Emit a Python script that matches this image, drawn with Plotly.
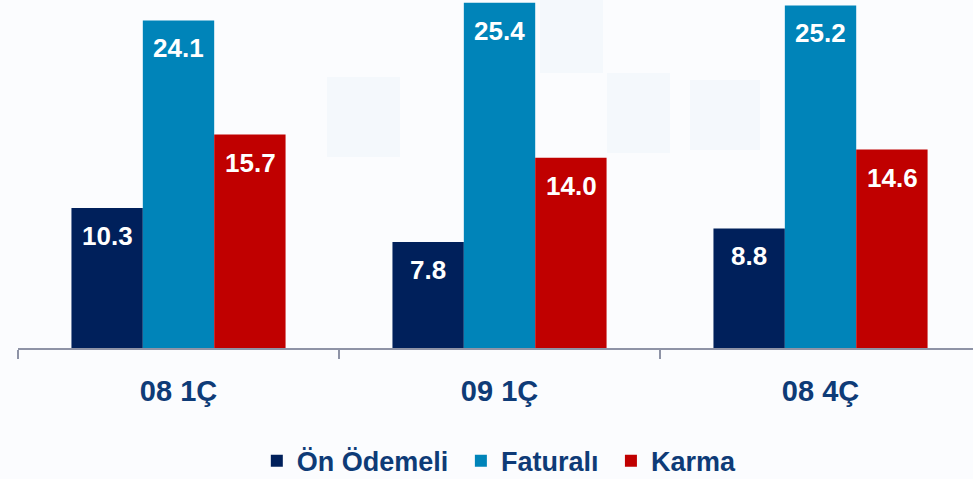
import plotly.graph_objects as go

categories = ["08 1Ç", "09 1Ç", "08 4Ç"]
series_names = ["Ön Ödemeli", "Faturalı", "Karma"]
on_odemeli = [10.3, 7.8, 8.8]
faturali = [24.1, 25.4, 25.2]
karma = [15.7, 14.0, 14.6]
series_values = [on_odemeli, faturali, karma]
colors = ["#00205B", "#0084B9", "#C00000"]

navy_text = "#0E3B77"
FONT = "Liberation Sans, Arial"
legend_pad = ["&nbsp;", "&nbsp;", ""]

fig = go.Figure()
for name, vals, col, pad in zip(series_names, series_values, colors, legend_pad):
    fig.add_trace(go.Bar(
        x=categories, y=vals, name=f"<b>{name}</b>{pad}", marker_color=col,
        marker_line_width=0, hoverinfo="skip",
    ))

# value labels inside bars near the top
offsets = [-71.5, 0, 71.5]
for vals, xs in zip(series_values, offsets):
    for c, v in zip(categories, vals):
        fig.add_annotation(
            x=c, y=v, text=f"<b>{v:.1f}</b>", showarrow=False,
            xshift=xs, yshift=-28,
            font=dict(family=FONT, size=26, color="white"),
        )

# very faint watermark squares
wm = [(327, 77, 400, 157), (540, 0, 603, 73), (607, 73, 670, 153),
      (540, 160, 600, 233), (690, 80, 760, 150)]
for x0, y0, x1, y1 in wm:
    fig.add_shape(type="rect", xref="paper", yref="paper",
                  x0=(x0 - 18) / 955, x1=(x1 - 18) / 955,
                  y0=1 - y1 / 348, y1=1 - y0 / 348,
                  fillcolor="#EEF4FA", line_width=0, layer="below", opacity=0.5)

fig.update_layout(
    width=973, height=479,
    margin=dict(l=18, r=0, t=0, b=131, autoexpand=False),
    paper_bgcolor="#FBFCFE", plot_bgcolor="rgba(0,0,0,0)",
    barmode="group", bargap=0.333, bargroupgap=0,
    showlegend=True,
    legend=dict(orientation="h", x=0.504, xanchor="center", y=-0.325, yanchor="middle",
                font=dict(family=FONT, size=27, color=navy_text),
                itemwidth=30, traceorder="normal"),
    font=dict(family=FONT),
)
fig.update_xaxes(
    range=[-0.5, 2.475],
    showline=True, linecolor="#8E93A6", linewidth=1.5,
    ticks="outside", tickson="boundaries", ticklen=9, tickcolor="#8E93A6", tickwidth=1.5,
    tickfont=dict(family=FONT, size=29, color=navy_text),
    ticklabelstandoff=16,
    tickvals=categories, ticktext=[f"<b>{c}</b>" for c in categories],
)
fig.update_yaxes(range=[0, 25.6], visible=False)

fig.write_html("out.html", config={"displayModeBar": False},
               post_script="document.body.style.margin='0';document.body.style.padding='0';")
